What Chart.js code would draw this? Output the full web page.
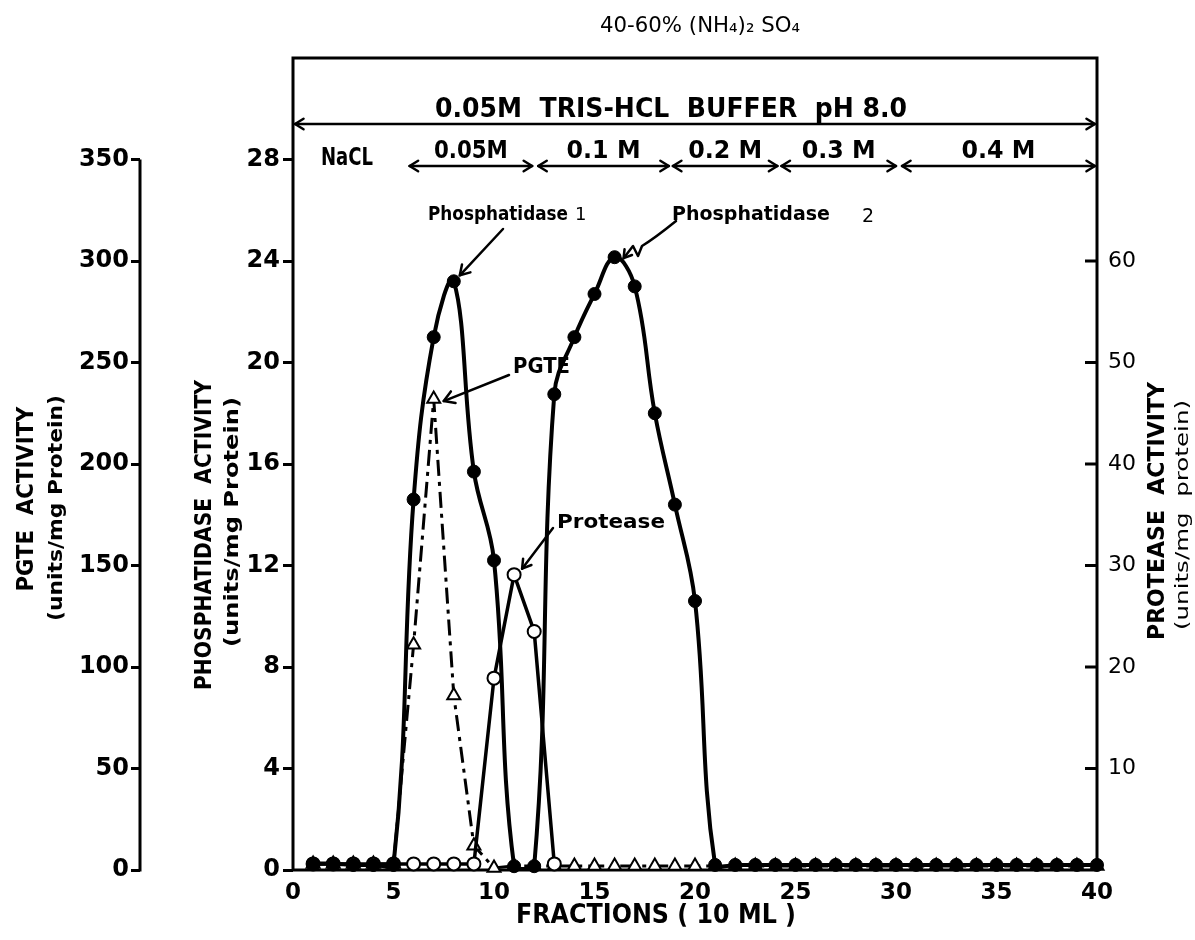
<!DOCTYPE html>
<html>
<head>
<meta charset="utf-8">
<script src="https://cdn.jsdelivr.net/npm/chart.js@4.4.0/dist/chart.umd.min.js"></script>
<style>
html,body{margin:0;padding:0;background:#fff;}
#wrap{width:1195px;height:940px;}
</style>
</head>
<body>
<div id="wrap"><canvas id="c" width="1195" height="940"></canvas></div>
<script>
// ---- data ----
const fractions = [1,2,3,4,5,6,7,8,9,10,11,12,13,14,15,16,17,18,19,20,
                   21,22,23,24,25,26,27,28,29,30,31,32,33,34,35,36,37,38,39,40];
// phosphatidase activity (units/mg protein), left inner axis
const phosphatidase = [0.25,0.25,0.2,0.2,0.2,14.6,21.0,23.2,15.7,12.2,
                       0.15,0.15,18.75,21.0,22.7,24.15,23.0,18.0,14.4,10.6,
                       0.2,0.2,0.2,0.2,0.2,0.2,0.2,0.2,0.2,0.2,
                       0.2,0.2,0.2,0.2,0.2,0.2,0.2,0.2,0.2,0.2];
// PGTE activity (units/mg protein), left outer axis
const pgte = [3,3,3,3,3,111,232,86,12,1,
              2,2,2,2,2,2,2,2,2,2,
              2,2,2,2,2,2,2,2,2,2,
              2,2,2,2,2,2,2,2,2,2];
// protease activity (units/mg protein), right axis (not plotted after fraction 13)
const protease = [0.6,0.6,0.6,0.6,0.6,0.6,0.6,0.6,0.6,18.9,
                  29.1,23.5,0.6,null,null,null,null,null,null,null,
                  null,null,null,null,null,null,null,null,null,null,
                  null,null,null,null,null,null,null,null,null,null];
const xTicks = [0,5,10,15,20,25,30,35,40];
const phosTicks = [0,4,8,12,16,20,24,28];
const pgteTicks = [0,50,100,150,200,250,300,350];
const proteaseTicks = [10,20,30,40,50,60];
// NaCl step gradient (fraction ranges)
const saltLabels = ['0.05M','0.1 M','0.2 M','0.3 M','0.4 M'];
const saltFrom   = [5.8, 12.2, 18.9, 24.3, 30.3];
const saltTo     = [11.9, 18.7, 24.1, 30.0, 40];

const toXY = arr => fractions.map((f, i) => ({x: f, y: arr[i]}));
const F = 'DejaVu Sans';

function head(ctx, x, y, ang, len) {
  ctx.beginPath();
  ctx.moveTo(x - len * Math.cos(ang - 0.55), y - len * Math.sin(ang - 0.55));
  ctx.lineTo(x, y);
  ctx.lineTo(x - len * Math.cos(ang + 0.55), y - len * Math.sin(ang + 0.55));
  ctx.stroke();
}
function dblArrow(ctx, x1, x2, y) {
  ctx.beginPath(); ctx.moveTo(x1, y); ctx.lineTo(x2, y); ctx.stroke();
  head(ctx, x1, y, Math.PI, 10);
  head(ctx, x2, y, 0, 10);
}
function txt(ctx, s, x, y, font, width, align) {
  ctx.save();
  ctx.font = font;
  const w = ctx.measureText(s).width;
  const k = width ? width / w : 1;
  ctx.translate(x, y);
  ctx.scale(k, 1);
  ctx.textAlign = align || 'center';
  ctx.textBaseline = 'middle';
  ctx.fillText(s, 0, 0);
  ctx.restore();
}
function rtxt(ctx, s, x, y, font, len) {
  ctx.save();
  ctx.font = font;
  const w = ctx.measureText(s).width;
  ctx.translate(x, y);
  ctx.rotate(-Math.PI / 2);
  ctx.scale(len / w, 1);
  ctx.textAlign = 'center';
  ctx.textBaseline = 'middle';
  ctx.fillText(s, 0, 0);
  ctx.restore();
}

const decor = {
  id: 'decor',
  beforeDraw(chart) {
    const ctx = chart.ctx;
    ctx.save(); ctx.fillStyle = '#fff'; ctx.fillRect(0, 0, chart.width, chart.height); ctx.restore();
  },
  beforeDatasetsDraw(chart) {
    const {ctx, chartArea: a, scales} = chart;
    ctx.save();
    ctx.strokeStyle = '#000'; ctx.lineWidth = 3;
    ctx.strokeRect(a.left, a.top, a.right - a.left, a.bottom - a.top);
    const sp = scales.yPGTE;
    ctx.beginPath();
    ctx.moveTo(sp.right, sp.getPixelForValue(0) + 1.5);
    ctx.lineTo(sp.right, sp.getPixelForValue(350));
    ctx.stroke();
    const pr = scales.yProt;
    ctx.beginPath();
    pr.ticks.forEach(t => {
      const y = pr.getPixelForValue(t.value);
      ctx.moveTo(a.right - 12, y); ctx.lineTo(a.right, y);
    });
    ctx.stroke();
    ctx.restore();
  },
  afterDraw(chart) {
    const {ctx, chartArea: a, scales} = chart;
    const xs = scales.x;
    ctx.save();
    ctx.fillStyle = '#000'; ctx.strokeStyle = '#000'; ctx.lineWidth = 2.5;
    ctx.lineCap = 'round'; ctx.lineJoin = 'round';

    // top caption
    txt(ctx, '40-60% (NH\u2084)\u2082 SO\u2084', 700, 27, `21px "${F}"`, 200);

    // buffer row
    txt(ctx, '0.05M  TRIS-HCL  BUFFER  pH 8.0', 671, 110, `bold 27px "${F}"`, 472);
    dblArrow(ctx, a.left + 2, a.right - 2, a.top + 66);

    // NaCl row
    txt(ctx, 'NaCL', 347, a.top + 101, `bold 24px "${F}"`, 52);
    saltLabels.forEach((lab, i) => {
      const x1 = xs.getPixelForValue(saltFrom[i]);
      const x2 = xs.getPixelForValue(saltTo[i]) - (i === saltLabels.length - 1 ? 2 : 0);
      dblArrow(ctx, x1, x2, a.top + 108);
      txt(ctx, lab, (x1 + x2) / 2, a.top + 93, `bold 25px "${F}"`, lab.length > 4 ? 74 : 62);
    });

    // peak labels
    const ph = scales.y, pg = scales.yPGTE, pr = scales.yProt;
    const p1x = xs.getPixelForValue(8), p1y = ph.getPixelForValue(phosphatidase[7]);
    txt(ctx, 'Phosphatidase', 428, 215, `bold 19px "${F}"`, 140, 'left');
    txt(ctx, '1', 575, 215, `18px "${F}"`, null, 'left');
    ctx.beginPath(); ctx.moveTo(503, 229); ctx.lineTo(p1x + 6, p1y - 6); ctx.stroke();
    head(ctx, p1x + 6, p1y - 6, Math.atan2(p1y - 6 - 229, p1x + 6 - 503), 11);

    const p2x = xs.getPixelForValue(16), p2y = ph.getPixelForValue(phosphatidase[15]);
    txt(ctx, 'Phosphatidase', 672, 215, `bold 20px "${F}"`, 158, 'left');
    txt(ctx, '2', 862, 217, `19px "${F}"`, null, 'left');
    ctx.beginPath();
    ctx.moveTo(676, 221);
    ctx.quadraticCurveTo(655, 238, 642, 246);
    ctx.lineTo(638, 256); ctx.lineTo(633, 246); ctx.lineTo(p2x + 9, p2y + 1);
    ctx.stroke();
    head(ctx, p2x + 9, p2y + 1, Math.atan2(p2y + 1 - 246, p2x + 9 - 633), 9);

    const g1x = xs.getPixelForValue(7), g1y = pg.getPixelForValue(pgte[6]);
    txt(ctx, 'PGTE', 513, 368, `bold 21px "${F}"`, 57, 'left');
    ctx.beginPath(); ctx.moveTo(509, 375); ctx.lineTo(g1x + 10, g1y + 2); ctx.stroke();
    head(ctx, g1x + 10, g1y + 2, Math.atan2(g1y + 2 - 375, g1x + 10 - 509), 12);

    const r1x = xs.getPixelForValue(11), r1y = pr.getPixelForValue(protease[10]);
    txt(ctx, 'Protease', 557, 523, `bold 20px "${F}"`, 108, 'left');
    ctx.beginPath(); ctx.moveTo(553, 528); ctx.lineTo(r1x + 8, r1y - 6); ctx.stroke();
    head(ctx, r1x + 8, r1y - 6, Math.atan2(r1y - 6 - 528, r1x + 8 - 553), 10);

    // axis titles
    rtxt(ctx, 'PGTE  ACTIVITY', 27, 499, `bold 23px "${F}"`, 185);
    rtxt(ctx, '(units/mg Protein)', 57, 508, `bold 19px "${F}"`, 226);
    rtxt(ctx, 'PHOSPHATIDASE  ACTIVITY', 205, 535, `bold 23px "${F}"`, 310);
    rtxt(ctx, '(units/mg Protein)', 233, 522, `bold 19px "${F}"`, 250);
    rtxt(ctx, 'PROTEASE  ACTIVITY', 1158, 511, `bold 23px "${F}"`, 258);
    rtxt(ctx, '(units/mg  protein)', 1183, 515, `18px "${F}"`, 230);
    txt(ctx, 'FRACTIONS ( 10 ML )', 656, 916, `bold 26px "${F}"`, 280);
    ctx.restore();
  }
};

const tickFont = {family: F, weight: 'bold', size: 24};

new Chart(document.getElementById('c'), {
  type: 'line',
  data: {
    datasets: [
      {label: 'Phosphatidase', data: toXY(phosphatidase), yAxisID: 'y',
       borderColor: '#000', backgroundColor: '#000', borderWidth: 4,
       pointRadius: 6.5, pointBorderWidth: 1, tension: 0.4, clip: false},
      {label: 'Protease', data: toXY(protease), yAxisID: 'yProt',
       borderColor: '#000', backgroundColor: '#fff', borderWidth: 3.5,
       pointRadius: 6.5, pointBorderWidth: 2, tension: 0, clip: false, spanGaps: false},
      {label: 'PGTE', data: toXY(pgte), yAxisID: 'yPGTE',
       borderColor: '#000', backgroundColor: '#fff', borderWidth: 3, borderDash: [16, 6, 4, 6],
       pointStyle: 'triangle', pointRadius: 7.5, pointBorderWidth: 2, tension: 0, clip: false}
    ]
  },
  options: {
    responsive: false, animation: false, devicePixelRatio: 1,
    layout: {padding: {top: 58, left: 0, right: 0, bottom: 0}},
    plugins: {legend: {display: false}, tooltip: {enabled: false}},
    scales: {
      x: {type: 'linear', min: 0, max: 40,
          afterBuildTicks: s => { s.ticks = xTicks.map(v => ({value: v})); },
          ticks: {font: {family: F, weight: 'bold', size: 23}, color: '#000', padding: 9, maxRotation: 0, autoSkip: false},
          grid: {display: false, drawTicks: false}, border: {display: false},
          afterFit: s => { s.height = 70; }},
      y: {position: 'left', weight: 1, min: 0, max: 32,
          afterBuildTicks: s => { s.ticks = phosTicks.map(v => ({value: v})); },
          ticks: {font: tickFont, color: '#000', padding: 3},
          grid: {drawOnChartArea: false, color: '#000', tickColor: '#000', tickLength: 10, tickWidth: 3},
          border: {display: false},
          afterFit: s => { s.width = 153; }},
      yPGTE: {position: 'left', weight: 2, min: 0, max: 400,
          afterBuildTicks: s => { s.ticks = pgteTicks.map(v => ({value: v})); },
          ticks: {font: tickFont, color: '#000', padding: 2},
          grid: {drawOnChartArea: false, color: '#000', tickColor: '#000', tickLength: 9, tickWidth: 3},
          border: {display: false},
          afterFit: s => { s.width = 140; }},
      yProt: {position: 'right', min: 0, max: 80,
          afterBuildTicks: s => { s.ticks = proteaseTicks.map(v => ({value: v})); },
          ticks: {font: {family: F, size: 22}, color: '#000', padding: 11},
          grid: {display: false, drawTicks: false}, border: {display: false},
          afterFit: s => { s.width = 98; }}
    }
  },
  plugins: [decor]
});
</script>
</body>
</html>
